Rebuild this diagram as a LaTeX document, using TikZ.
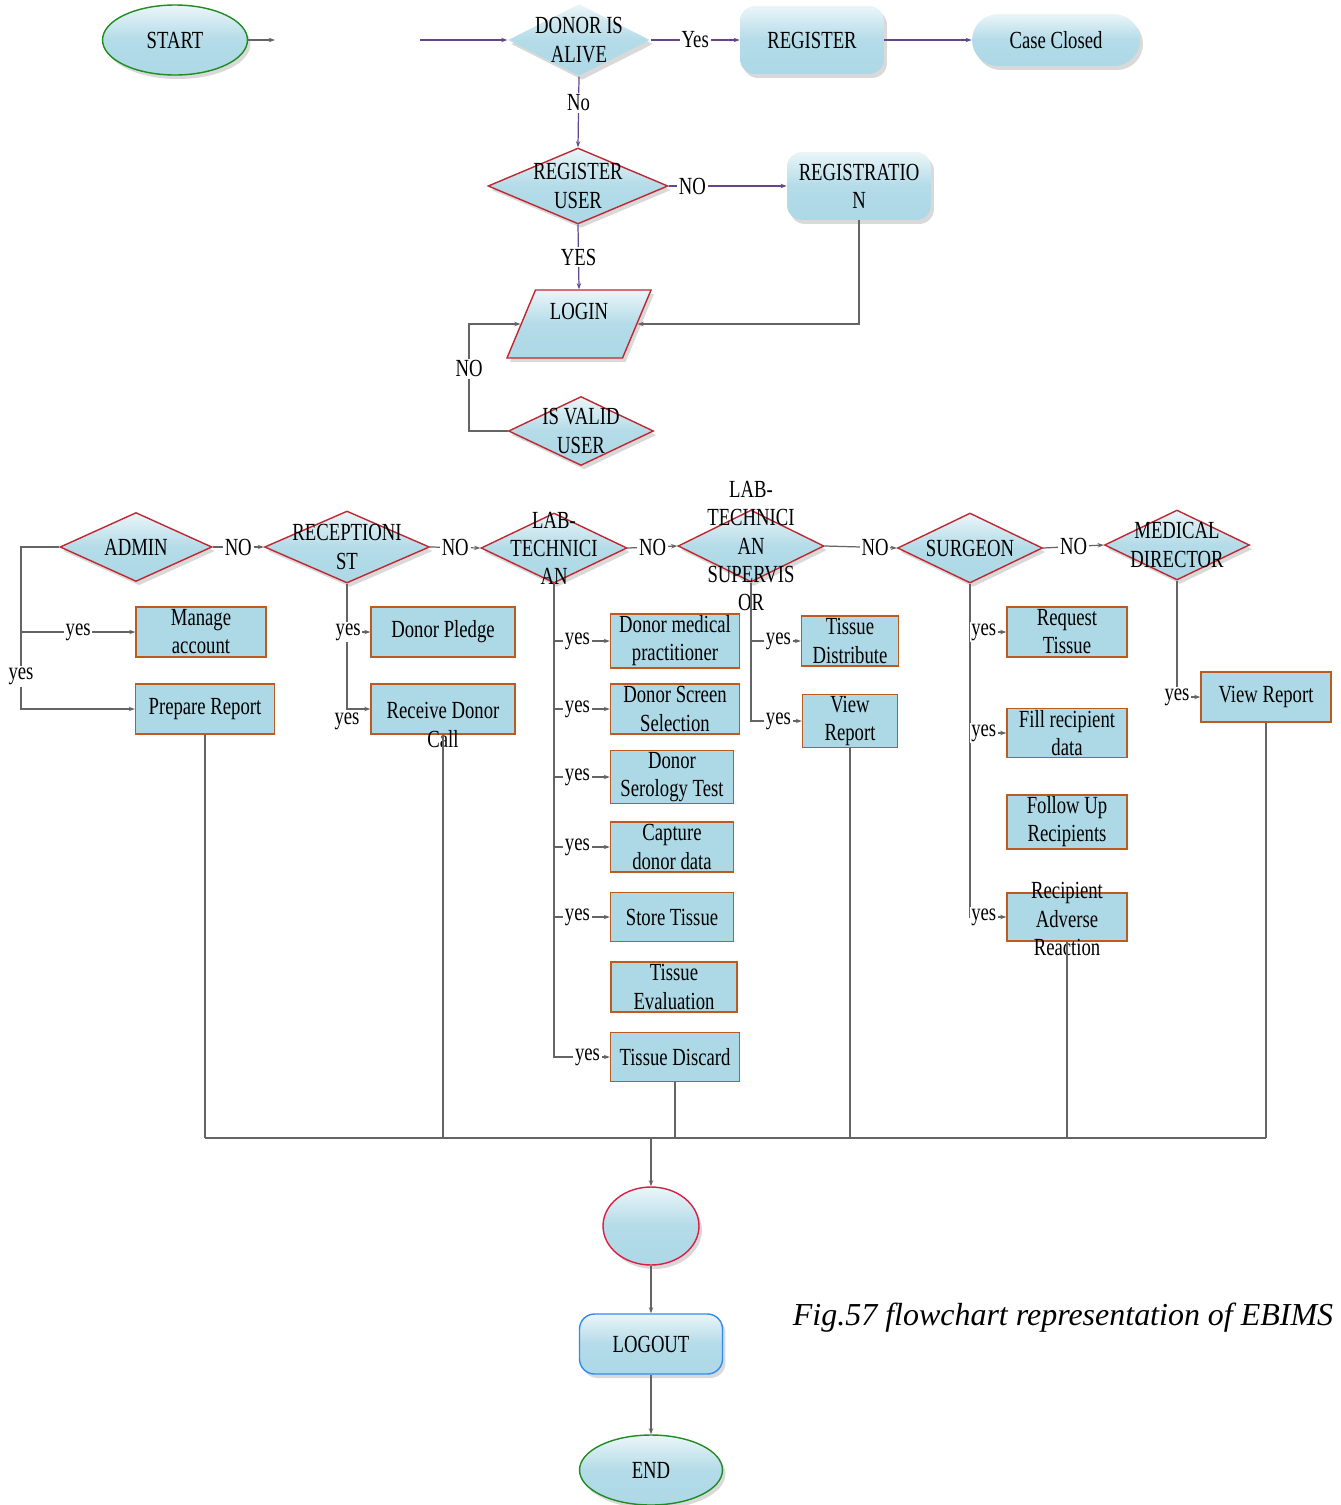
\documentclass[tikz,border=0pt]{standalone}
\usepackage{fontspec}
\setmainfont{Liberation Serif}[FakeStretch=0.76]
\newfontfamily\capfont{Liberation Serif}
\usepackage{tikz}
\usetikzlibrary{arrows.meta, positioning, calc, shapes.geometric, shadows}
\definecolor{lblue}{RGB}{173,216,230}
\definecolor{redbrd}{RGB}{190,40,50}
\definecolor{boxbrd}{RGB}{190,90,30}
\definecolor{purp}{RGB}{100,70,140}
\definecolor{grayln}{RGB}{100,100,100}
\definecolor{grnbrd}{RGB}{30,140,30}
\definecolor{blubrd}{RGB}{50,140,240}
\definecolor{crim}{RGB}{220,30,70}
\newcommand{\flowfont}{\fontsize{14pt}{16pt}\selectfont}

\begin{document}
\begin{tikzpicture}[
  x=0.02cm, y=-0.02cm,
  gloss/.style={top color=lblue!25!white, bottom color=lblue, middle color=lblue!92!white,
    drop shadow={shadow xshift=0.06cm, shadow yshift=-0.08cm, opacity=0.3}},
  txt/.style={font=\flowfont, align=center, inner sep=0pt},
  term/.style={ellipse, gloss, line width=0.8pt, minimum width=2.9cm, minimum height=1.4cm, inner sep=0pt, font=\flowfont},
  rbox/.style={rectangle, gloss, rounded corners=0.3cm, minimum height=1.36cm, inner sep=1pt, font=\flowfont, align=center},
  dec/.style={diamond, gloss, draw=redbrd, line width=0.8pt, inner sep=0pt},
  io/.style={trapezium, trapezium left angle=66, trapezium right angle=114, trapezium stretches=true,
    gloss, draw=redbrd, line width=0.8pt, inner sep=2pt, minimum width=2.9cm, minimum height=1.36cm,
    font=\flowfont, text depth=14pt},
  proc/.style={rectangle, draw=boxbrd, fill=lblue, line width=0.8pt, minimum height=1cm, inner sep=1pt, font=\flowfont, align=center},
  lbl/.style={font=\flowfont, fill=white, inner sep=1pt},
  gseg/.style={draw=grayln, line width=0.7pt},
  gflow/.style={gseg, -{Stealth[length=3.5pt, width=2.5pt]}},
  pflow/.style={draw=purp, line width=0.7pt, -{Stealth[length=3.5pt, width=2.5pt]}}
]
  \useasboundingbox (0,0) rectangle (1340,1505);

  % Top part
  \node[term, draw=grnbrd] (start) at (175,40) {START};
  \coordinate (stubA) at (275,40);
  \coordinate (stubB) at (420,40);
  \node[dec, draw=none, minimum width=2.84cm, minimum height=1.44cm,
    label={[txt]center:DONOR IS\\ALIVE}] (alive) at (579,40) {};
  \node[rbox, minimum width=2.88cm] (register) at (812,40) {REGISTER};
  \node[rbox, minimum width=3.36cm, minimum height=1.04cm, rounded corners=0.52cm] (closed) at (1056,40) {Case Closed};
  \node[dec, minimum width=3.6cm, minimum height=1.52cm,
    label={[txt]center:REGISTER\\USER}] (reguser) at (578,186) {};
  \node[rbox, minimum width=2.88cm] (regn) at (859,186) {REGISTRATIO\\N};
  \node[io] (login) at (579,324) {LOGIN};
  \node[dec, minimum width=2.9cm, minimum height=1.38cm,
    label={[txt]center:IS VALID\\USER}] (valid) at (581,431) {};
  \coordinate (nobend) at (469,431);

  \draw[gflow] (start.east) -- (stubA);
  \draw[pflow] (stubB) -- (alive.west);
  \draw[pflow] (alive.east) -- node[lbl] {Yes} (register.west);
  \draw[pflow] (register.east) -- (closed.west);
  \draw[pflow] (alive.south) -- node[lbl, pos=0.37] {No} (reguser.north);
  \draw[pflow] (reguser.east) -- node[lbl, pos=0.2] {NO} (regn.west);
  \draw[pflow] (reguser.south) -- node[lbl] {YES} (login.north);
  \draw[gflow] (regn.south) |- (login.east);
  \draw[gflow] (valid.west) -- (nobend) |- node[lbl, pos=0.29] {NO} (login.west);

  % Roles
  \node[dec, minimum width=3.04cm, minimum height=1.38cm,
    label={[txt]center:ADMIN}] (admin) at (136,547) {};
  \node[dec, minimum width=3.3cm, minimum height=1.44cm,
    label={[txt]center:RECEPTIONI\\ST}] (recep) at (347,547) {};
  \node[dec, minimum width=2.92cm, minimum height=1.4cm,
    label={[txt]center:LAB-\\TECHNICI\\AN}] (labtech) at (554,548) {};
  \node[dec, minimum width=2.92cm, minimum height=1.44cm,
    label={[txt]center:LAB-\\TECHNICI\\AN\\SUPERVIS\\OR}] (labsup) at (751,546) {};
  \node[dec, minimum width=2.9cm, minimum height=1.4cm,
    label={[txt]center:SURGEON}] (surgeon) at (970,548) {};
  \node[dec, minimum width=2.9cm, minimum height=1.4cm,
    label={[txt]center:MEDICAL\\DIRECTOR}] (meddir) at (1177,545) {};

  \draw[gflow] (admin.east) -- node[lbl] {NO} (recep.west);
  \draw[gflow] (recep.east) -- node[lbl] {NO} (labtech.west);
  \draw[gflow] (labtech.east) -- node[lbl] {NO} (labsup.west);
  \draw[gflow] (labsup.east) -- node[lbl, pos=0.7] {NO} (surgeon.west);
  \draw[gflow] (surgeon.east) -- node[lbl] {NO} (meddir.west);

  % Tasks
  \node[proc, minimum width=2.6cm] (manage) at (201,632) {Manage\\account};
  \node[proc, minimum width=2.78cm] (prep) at (205,709) {Prepare Report};
  \node[proc, minimum width=2.88cm] (pledge) at (443,632) {Donor Pledge};
  \node[proc, minimum width=2.88cm, label={[txt, yshift=-0.32cm]center:Receive Donor\\Call}] (recv) at (443,709) {};
  \node[proc, minimum width=2.58cm] (dmp) at (675,641) {Donor medical\\practitioner};
  \node[proc, minimum width=2.58cm] (dss) at (675,709) {Donor Screen\\Selection};
  \node[proc, minimum width=2.46cm, minimum height=0.98cm] (dst) at (672,777) {Donor\\Serology Test};
  \node[proc, minimum width=2.46cm] (cdd) at (672,847) {Capture\\donor data};
  \node[proc, minimum width=2.46cm, minimum height=0.98cm] (store) at (672,917) {Store Tissue};
  \node[proc, minimum width=2.52cm] (teval) at (674,987) {Tissue\\Evaluation};
  \node[proc, minimum width=2.58cm, minimum height=0.98cm] (discard) at (675,1057) {Tissue Discard};
  \node[proc, minimum width=1.94cm] (tdist) at (850,641) {Tissue\\Distribute};
  \node[proc, minimum width=1.9cm, minimum height=0.98cm] (vrep) at (850,721) {View\\Report};
  \node[proc, minimum width=2.4cm] (reqt) at (1067,632) {Request\\Tissue};
  \node[proc, minimum width=2.4cm, minimum height=0.98cm] (fill) at (1067,733) {Fill recipient\\data};
  \node[proc, minimum width=2.4cm, minimum height=0.98cm] (follow) at (1067,822) {Follow Up\\Recipients};
  \node[proc, minimum width=2.4cm, minimum height=0.96cm,
    label={[txt, yshift=-0.04cm]center:Recipient\\Adverse\\Reaction}] (adverse) at (1067,917) {};
  \node[proc, minimum width=2.6cm] (vrmd) at (1266,697) {View Report};

  % Branches
  \coordinate (adbus) at (21,547);
  \draw[gflow] (admin.west) -- (adbus) |- node[lbl, pos=0.4] {yes} (prep.west);
  \draw[gflow] (adbus |- manage.west) -- node[lbl] {yes} (manage.west);

  \draw[gflow] (recep.south) |- node[lbl, below, pos=0.5, yshift=-1pt] {yes} (recv.west);
  \draw[gflow] (recep.south |- pledge.west) -- node[lbl, pos=0.05] {yes} (pledge.west);

  \draw[gflow] (labtech.south) |- node[lbl, pos=0.8] {yes} (discard.west);
  \foreach \t in {dmp, dss, dst, cdd, store} {
    \draw[gflow] (labtech.south |- \t.west) -- node[lbl, pos=0.42] {yes} (\t.west);
  }

  \draw[gflow] (labsup.south) |- node[lbl, pos=0.77] {yes} (vrep.west);
  \draw[gflow] (labsup.south |- tdist.west) -- node[lbl, pos=0.55] {yes} (tdist.west);

  \draw[gflow] (surgeon.south) |- node[lbl, pos=0.69] {yes} (adverse.west);
  \foreach \t in {reqt, fill} {
    \draw[gflow] (surgeon.south |- \t.west) -- node[lbl, pos=0.38] {yes} (\t.west);
  }

  \draw[gflow] (meddir.south) |- node[lbl, pos=0.5] {yes} (vrmd.west);

  % Merge and end
  \coordinate (bus) at (651,1138);
  \foreach \t in {prep, recv, discard, vrep, adverse, vrmd} {
    \draw[gseg] (\t.south) -- (\t.south |- bus);
  }
  \draw[gseg, line width=1pt] (prep.south |- bus) -- (vrmd.south |- bus);

  \node[ellipse, gloss, draw=crim, line width=0.8pt, minimum width=1.92cm, minimum height=1.56cm] (merge) at (651,1226) {};
  \node[rbox, draw=blubrd, line width=0.8pt, minimum width=2.86cm, minimum height=1.2cm] (logout) at (651,1344) {LOGOUT};
  \node[term, draw=grnbrd, minimum width=2.86cm] (stop) at (651,1470) {END};

  \draw[gflow, line width=1pt] (bus) -- (merge.north);
  \draw[gflow] (merge.south) -- (logout.north);
  \draw[gflow] (logout.south) -- (stop.north);

  \node[font=\capfont\itshape\fontsize{18.2pt}{21pt}\selectfont] (cap) at (1063,1318)
    {Fig.57 flowchart representation of EBIMS};
\end{tikzpicture}
\end{document}
